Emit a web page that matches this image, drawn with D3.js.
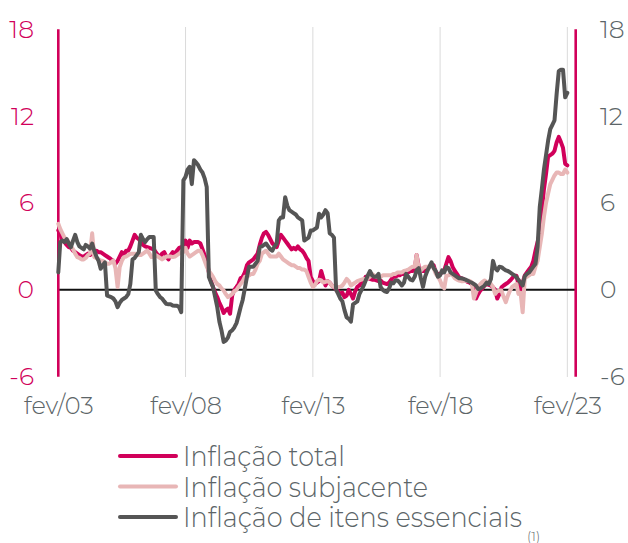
<!DOCTYPE html>
<html>
<head>
<meta charset="utf-8">
<script src="https://cdn.jsdelivr.net/npm/d3@7"></script>
<style>
  body { margin: 0; background: #fff; }
  svg text { font-family: "Montserrat", "Open Sans", "Noto Sans", sans-serif; font-weight: 300; }
</style>
</head>
<body>
<svg id="chart" width="628" height="543"></svg>
<script>
// tick values and legend labels
const yTicks = [-6, 0, 6, 12, 18];
const xTickYears = [2003, 2008, 2013, 2018, 2023];
const seriesNames = ["Inflação total", "Inflação subjacente", "Inflação de itens essenciais"];

// monthly values, fev/03 .. fev/23 (one row per year, starting in February)
const inflacaoTotal = [
  4.1, 3.9, 3.4, 3.3, 3.1, 2.95, 2.9, 2.7, 2.6, 2.5, 2.4, 2.3,
  2.3, 2.4, 2.5, 2.4, 2.5, 2.6, 2.7, 2.6, 2.6, 2.5, 2.4, 2.3,
  2.2, 2.1, 2.0, 1.8, 2.0, 2.3, 2.6, 2.4, 2.7, 2.7, 3.0, 3.4,
  3.8, 3.6, 3.5, 3.3, 3.1, 3.0, 2.95, 2.9, 2.85, 2.8, 2.6, 2.4,
  2.3, 2.5, 2.6, 2.3, 2.1, 2.4, 2.6, 2.5, 2.7, 2.9, 2.95, 3.0,
  3.4, 2.9, 3.4, 3.2, 3.3, 3.3, 3.3, 3.2, 2.8, 2.4, 2.0, 1.2,
  0.6, 0.2, -0.2, -0.5, -0.9, -1.2, -1.6, -1.4, -1.3, -1.65, -0.4, 0.0,
  0.2, 0.4, 0.8, 0.9, 1.2, 1.7, 1.9, 2.0, 2.1, 2.3, 2.5, 3.1,
  3.6, 3.9, 4.0, 3.8, 3.5, 3.2, 3.1, 2.95, 3.4, 3.8, 3.6, 3.4,
  3.2, 3.0, 2.8, 2.9, 2.8, 3.0, 2.8, 2.7, 2.5, 2.2, 2.0, 0.9,
  0.6, 0.4, 0.5, 0.6, 1.3, 0.8, 0.3, 0.6, 0.5, 0.3, 0.2, 0.0,
  -0.1, -0.3, -0.2, -0.5, -0.4, 0.0, -0.3, -0.6, -0.1, 0.2, 0.3, 0.5,
  0.6, 0.9, 0.8, 0.75, 0.7, 0.7, 0.65, 0.6, 0.65, 0.5, 0.45, 0.4,
  0.5, 0.7, 0.9, 0.9, 1.0, 1.0, 1.1, 1.1, 1.2, 1.2, 1.3, 1.3,
  1.4, 2.4, 1.6, 1.4, 1.3, 1.3, 1.5, 1.6, 1.7, 1.7, 1.2, 1.1,
  1.1, 1.2, 1.34, 1.8, 2.26, 2.0, 1.57, 1.3, 1.1, 0.87, 0.8, 0.75,
  0.64, 0.55, 0.5, 0.4, 0.2, -0.6, -0.3, -0.05, 0.1, 0.3, 0.4, 0.35,
  0.3, 0.18, 0.0, -0.6, -0.3, 0.18, 0.3, 0.4, 0.5, 0.64, 0.8, 0.97,
  0.97, 0.4, -0.05, 0.5, 1.0, 1.2, 1.4, 1.6, 2.0, 2.7, 3.3, 3.9,
  5.5, 6.9, 8.0, 9.2, 9.3, 9.4, 9.6, 10.2, 10.56, 10.2, 9.8, 8.7,
  8.6
];

const inflacaoSubjacente = [
  4.56, 4.2, 3.9, 3.6, 3.5, 3.3, 3.0, 2.8, 2.5, 2.26, 2.2, 2.1,
  2.1, 2.2, 2.4, 2.5, 3.9, 2.26, 2.2, 2.1, 2.03, 2.0, 1.9, 1.8,
  1.8, 1.9, 2.03, 1.5, 0.19, 1.57, 2.0, 2.26, 2.3, 2.4, 2.49, 2.49,
  2.5, 2.45, 2.4, 2.4, 2.5, 2.6, 2.72, 2.5, 2.26, 2.3, 2.4, 2.3,
  2.2, 2.1, 2.2, 2.3, 2.3, 2.3, 2.26, 2.3, 2.4, 2.5, 2.6, 2.6,
  2.9, 2.5, 2.3, 2.4, 2.5, 2.6, 2.7, 2.7, 2.4, 2.0, 1.6, 1.3,
  1.1, 0.9, 0.6, 0.4, 0.3, 0.1, -0.04, -0.3, -0.5, -0.4, -0.3, -0.1,
  0.0, 0.2, 0.4, 0.6, 0.9, 0.9, 1.0, 1.1, 1.1, 1.4, 1.8, 2.0,
  2.5, 2.6, 2.7, 2.5, 2.3, 2.3, 2.3, 2.3, 2.5, 2.3, 2.1, 2.0,
  1.9, 1.8, 1.7, 1.7, 1.6, 1.5, 1.5, 1.4, 1.4, 1.3, 0.9, 0.5,
  0.2, 0.3, 0.6, 0.7, 0.65, 0.5, 0.55, 0.6, 0.5, 0.3, 0.2, 0.2,
  0.2, 0.2, 0.3, 0.5, 0.75, 0.6, 0.3, 0.4, 0.5, 0.6, 0.65, 0.7,
  0.75, 0.75, 0.8, 0.9, 1.1, 1.0, 0.9, 0.88, 0.9, 1.0, 1.0, 1.0,
  1.0, 1.0, 1.1, 1.1, 1.2, 1.2, 1.2, 1.3, 1.34, 1.4, 1.5, 1.6,
  1.6, 2.4, 1.5, 1.34, 1.5, 1.6, 1.6, 1.6, 1.7, 1.5, 1.1, 0.9,
  0.64, 0.3, 0.1, 0.97, 1.0, 1.1, 1.0, 0.8, 0.7, 0.64, 0.6, 0.6,
  0.64, 0.6, 0.62, 0.5, -0.6, -0.2, 0.18, 0.4, 0.55, 0.64, 0.55, 0.5,
  0.4, 0.2, -0.28, -0.1, -0.05, -0.05, -0.5, -0.85, -0.4, -0.05, 0.2, 0.3,
  0.4, -0.28, -0.2, -1.55, 0.87, 0.9, 1.0, 1.1, 1.1, 1.6, 2.0, 2.95,
  3.9, 5.0, 6.0, 6.64, 7.3, 7.6, 7.9, 8.1, 8.1, 8.0, 8.0, 8.3,
  8.1
];

const inflacaoEssenciais = [
  1.2, 3.3, 3.4, 3.3, 3.5, 3.2, 2.95, 3.4, 3.8, 3.3, 3.0, 2.9,
  2.8, 3.1, 3.0, 2.85, 3.2, 2.7, 2.3, 2.0, 1.45, 1.7, 1.9, -0.4,
  -0.45, -0.5, -0.6, -0.8, -1.2, -0.9, -0.7, -0.6, -0.5, -0.3, 0.41, 2.1,
  2.2, 2.4, 2.6, 3.8, 3.5, 3.3, 3.5, 3.65, 3.65, 3.65, -0.05, -0.3,
  -0.5, -0.6, -0.8, -0.97, -1.0, -1.0, -1.08, -1.1, -1.1, -1.2, -1.55, 7.56,
  7.8, 8.3, 8.5, 7.3, 8.95, 8.8, 8.6, 8.3, 8.1, 7.7, 7.1, 0.88,
  0.5, 0.2, -0.5, -1.2, -2.2, -2.8, -3.6, -3.5, -3.3, -2.9, -2.8, -2.6,
  -2.3, -1.8, -1.2, -0.7, 0.1, 0.9, 1.6, 1.6, 1.6, 1.8, 2.0, 2.95,
  3.0, 3.1, 3.2, 3.0, 2.8, 2.7, 3.0, 3.2, 4.8, 5.0, 5.0, 6.4,
  5.8, 5.5, 5.4, 5.3, 5.2, 5.0, 4.9, 4.8, 3.4, 3.5, 3.6, 4.1,
  4.1, 4.2, 4.3, 5.26, 5.0, 5.2, 5.5, 5.3, 3.9, 3.8, 3.6, 0.0,
  -0.3, -0.6, -0.8, -1.4, -1.9, -2.0, -2.2, -1.0, -0.9, -0.8, -0.3, 0.0,
  0.3, 0.65, 1.0, 1.3, 1.0, 0.9, 0.9, 1.1, 0.2, 0.0, -0.1, -0.15,
  0.1, 0.5, 0.45, 0.65, 0.65, 0.5, 0.3, 0.5, 1.1, 0.9, 0.7, 0.65,
  0.9, 1.34, 1.5, 0.8, 0.2, 0.9, 1.3, 1.6, 1.9, 1.5, 1.3, 0.9,
  1.0, 1.34, 1.2, 1.57, 1.5, 1.2, 1.1, 1.0, 0.9, 0.8, 0.8, 0.75,
  0.7, 0.64, 0.55, 0.5, 0.4, 0.3, 0.06, 0.1, 0.18, 0.3, 0.5, 0.4,
  0.75, 2.0, 1.5, 1.34, 1.6, 1.57, 1.45, 1.34, 1.3, 1.2, 1.1, 1.0,
  0.87, 0.7, 0.5, 0.3, 0.95, 1.1, 1.2, 1.4, 1.6, 1.8, 2.95, 5.7,
  7.0, 8.25, 9.3, 10.3, 11.1, 11.4, 11.7, 13.56, 15.1, 15.2, 15.2, 13.3,
  13.6
];

const months = d3.timeMonth.range(new Date(2003, 1, 1), new Date(2023, 2, 1));

const crimson = "#d1005a";
const colors = [crimson, "#e8b6b6", "#555555"];
const textGray = "#5c6568";

const svg = d3.select("#chart");

const x = d3.scaleTime()
    .domain([new Date(2003, 1, 1), new Date(2023, 5, 1)])
    .range([58.3, 575.7]);

const y = d3.scaleLinear()
    .domain([-6, 18])
    .range([376.7, 29.2]);

// vertical gridlines
svg.append("g")
    .selectAll("line")
    .data(xTickYears.slice(1))
    .join("line")
    .attr("x1", d => x(new Date(d, 1, 1)))
    .attr("x2", d => x(new Date(d, 1, 1)))
    .attr("y1", 27)
    .attr("y2", 377)
    .attr("stroke", "#dadada")
    .attr("stroke-width", 1);

// zero line
svg.append("line")
    .attr("x1", x.range()[0])
    .attr("x2", x.range()[1])
    .attr("y1", y(0))
    .attr("y2", y(0))
    .attr("stroke", "#111")
    .attr("stroke-width", 2);

// left and right axis bars
svg.append("g")
    .selectAll("line")
    .data(x.range())
    .join("line")
    .attr("x1", d => d)
    .attr("x2", d => d)
    .attr("y1", y(18))
    .attr("y2", y(-6))
    .attr("stroke", crimson)
    .attr("stroke-width", 2.6);

// the three series
const series = [inflacaoTotal, inflacaoSubjacente, inflacaoEssenciais];
const line = d3.line()
    .x((d, i) => x(months[i]))
    .y(d => y(d));

svg.append("g")
    .attr("fill", "none")
    .attr("stroke-width", 4)
    .attr("stroke-linejoin", "round")
    .attr("stroke-linecap", "round")
    .selectAll("path")
    .data(series)
    .join("path")
    .attr("stroke", (d, i) => colors[i])
    .attr("d", line);

// plain hyphen for negatives, as in the original
const fmt = d => String(d);

// left y axis
const yLeft = svg.append("g")
    .attr("transform", "translate(34,0)")
    .call(d3.axisLeft(y).tickValues(yTicks).tickFormat(fmt).tickSize(0).tickPadding(0));
yLeft.select(".domain").remove();
yLeft.selectAll("text")
    .attr("fill", crimson)
    .attr("font-size", 25);

// right y axis
const yRight = svg.append("g")
    .attr("transform", "translate(600,0)")
    .call(d3.axisRight(y).tickValues(yTicks).tickFormat(fmt).tickSize(0).tickPadding(0));
yRight.select(".domain").remove();
yRight.selectAll("text")
    .attr("fill", textGray)
    .attr("font-size", 25);

// x axis
const xAxis = svg.append("g")
    .attr("transform", "translate(0,397)")
    .call(d3.axisBottom(x)
        .tickValues(xTickYears.map(yr => new Date(yr, 1, 1)))
        .tickFormat(d => "fev/" + d3.timeFormat("%y")(d))
        .tickSize(0)
        .tickPadding(0));
xAxis.select(".domain").remove();
xAxis.selectAll("text")
    .attr("fill", textGray)
    .attr("font-size", 24);

svg.selectAll(".tick text").attr("font-family", null);

// legend
const legendRows = [456, 486.5, 517];
const legendWidths = [162, 245, 339];
const legend = svg.append("g")
    .selectAll("g")
    .data(seriesNames)
    .join("g")
    .attr("transform", (d, i) => `translate(0,${legendRows[i]})`);

legend.append("line")
    .attr("x1", 120)
    .attr("x2", 176)
    .attr("stroke", (d, i) => colors[i])
    .attr("stroke-width", 4)
    .attr("stroke-linecap", "round");

legend.append("text")
    .attr("x", 183)
    .attr("y", 10)
    .attr("font-size", 28)
    .attr("fill", textGray)
    .attr("textLength", (d, i) => legendWidths[i])
    .attr("lengthAdjust", "spacingAndGlyphs")
    .text(d => d);

svg.append("text")
    .attr("x", 527)
    .attr("y", 541)
    .attr("font-size", 13)
    .attr("fill", textGray)
    .text("(1)");
</script>
</body>
</html>
